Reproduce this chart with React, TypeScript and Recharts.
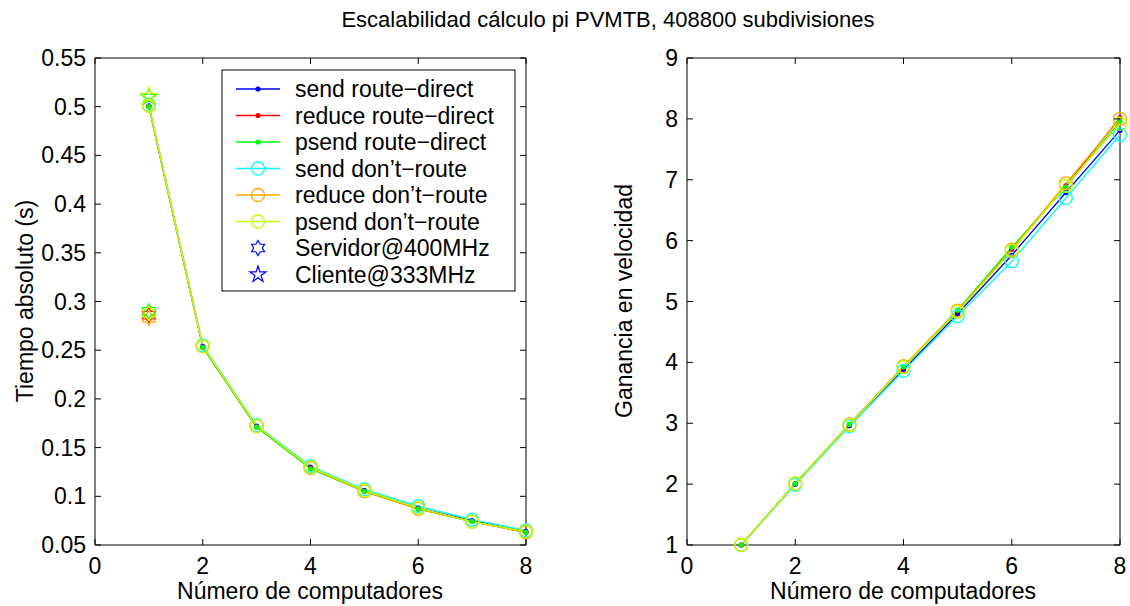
import React from "react";
import { ComposedChart, Line, Scatter, XAxis, YAxis, ReferenceLine } from "recharts";

const computers = [1, 2, 3, 4, 5, 6, 7, 8];

// tiempo absoluto (s)
const timeSendRD = [0.501, 0.254, 0.172, 0.13, 0.106, 0.088, 0.075, 0.064];
const timeReduceRD = [0.5, 0.253, 0.171, 0.129, 0.105, 0.087, 0.074, 0.063];
const timePsendRD = [0.5, 0.253, 0.171, 0.128, 0.105, 0.087, 0.074, 0.063];
const timeSendDR = [0.502, 0.255, 0.173, 0.131, 0.107, 0.09, 0.076, 0.065];
const timeReduceDR = [0.501, 0.254, 0.172, 0.129, 0.105, 0.087, 0.074, 0.063];
const timePsendDR = [0.501, 0.254, 0.172, 0.13, 0.106, 0.088, 0.074, 0.064];

// ganancia en velocidad
const speedSendRD = [1, 2.0, 2.96, 3.88, 4.8, 5.76, 6.79, 7.81];
const speedReduceRD = [1, 2.01, 2.98, 3.92, 4.85, 5.86, 6.9, 8.02];
const speedPsendRD = [1, 2.01, 2.98, 3.93, 4.86, 5.89, 6.88, 7.96];
const speedSendDR = [1, 1.99, 2.95, 3.86, 4.76, 5.66, 6.7, 7.74];
const speedReduceDR = [1, 2.01, 2.98, 3.94, 4.85, 5.85, 6.94, 8.0];
const speedPsendDR = [1, 2.01, 2.97, 3.92, 4.83, 5.83, 6.9, 7.92];

// single-machine reference times
const servidorTimes = [0.286, 0.283, 0.29, 0.288];
const servidorColors = ["#ff0000", "#ffaa00", "#00ff00", "#c0ff00"];
const clienteTimes = [0.51, 0.511];
const clienteColors = ["#00ff00", "#c0ff00"];

const xTicks = [0, 2, 4, 6, 8];
const timeTicks = [0.05, 0.1, 0.15, 0.2, 0.25, 0.3, 0.35, 0.4, 0.45, 0.5, 0.55];
const speedTicks = [1, 2, 3, 4, 5, 6, 7, 8, 9];

const series = [
  { key: "sendRD", name: "send route−direct", color: "#0000ff", circle: false, time: timeSendRD, speed: speedSendRD },
  { key: "reduceRD", name: "reduce route−direct", color: "#ff0000", circle: false, time: timeReduceRD, speed: speedReduceRD },
  { key: "psendRD", name: "psend route−direct", color: "#00ff00", circle: false, time: timePsendRD, speed: speedPsendRD },
  { key: "sendDR", name: "send don’t−route", color: "#00ffff", circle: true, time: timeSendDR, speed: speedSendDR },
  { key: "reduceDR", name: "reduce don’t−route", color: "#ffaa00", circle: true, time: timeReduceDR, speed: speedReduceDR },
  { key: "psendDR", name: "psend don’t−route", color: "#c0ff00", circle: true, time: timePsendDR, speed: speedPsendDR },
];

const timeData = computers.map((n, i) => {
  const row: any = { n };
  series.forEach((s) => (row[s.key] = s.time[i]));
  return row;
});
const speedData = computers.map((n, i) => {
  const row: any = { n };
  series.forEach((s) => (row[s.key] = s.speed[i]));
  return row;
});
const servidorData = servidorTimes.map((t, i) => ({ n: 1, t, color: servidorColors[i] }));
const clienteData = clienteTimes.map((t, i) => ({ n: 1, t, color: clienteColors[i] }));

const FONT = "'Liberation Sans', Arial, Helvetica, sans-serif";
const FS = 23;
const TOP = 58;
const BOTTOM = 545;
const TICK = 6;

function starPoints(cx: number, cy: number, n: number, R: number, r: number) {
  const pts: string[] = [];
  for (let i = 0; i < 2 * n; i++) {
    const a = -Math.PI / 2 + (i * Math.PI) / n;
    const rad = i % 2 === 0 ? R : r;
    pts.push(`${cx + rad * Math.cos(a)},${cy + rad * Math.sin(a)}`);
  }
  return pts.join(" ");
}

const Hexagram = (props: any) => {
  const { cx, cy, payload } = props;
  const c = payload?.color || "#0000ff";
  return <polygon points={starPoints(cx, cy, 6, 7.5, 7.5 / Math.sqrt(3))} fill="none" stroke={c} strokeWidth={1.2} />;
};
const Pentagram = (props: any) => {
  const { cx, cy, payload } = props;
  const c = payload?.color || "#0000ff";
  return <polygon points={starPoints(cx, cy, 5, 8.5, 8.5 * 0.382)} fill="none" stroke={c} strokeWidth={1.2} />;
};

// ticks pointing inward, drawn on both sides of the box
const makeXTick = () => (props: any) => {
  const { x, payload } = props;
  return (
    <g>
      <line x1={x} y1={BOTTOM} x2={x} y2={BOTTOM - TICK} stroke="#000" />
      <line x1={x} y1={TOP} x2={x} y2={TOP + TICK} stroke="#000" />
      <text x={x} y={BOTTOM + 29} textAnchor="middle" fontSize={FS} fontFamily={FONT} fill="#000">
        {payload.value}
      </text>
    </g>
  );
};
const makeYTick = (left: number, right: number) => (props: any) => {
  const { y, payload } = props;
  return (
    <g>
      <line x1={left} y1={y} x2={left + TICK} y2={y} stroke="#000" />
      <line x1={right} y1={y} x2={right - TICK} y2={y} stroke="#000" />
      <text x={left - 9} y={y + 8} textAnchor="end" fontSize={FS} fontFamily={FONT} fill="#000">
        {payload.value}
      </text>
    </g>
  );
};

const renderLines = () =>
  series.map((s) => (
    <Line
      key={s.key}
      dataKey={s.key}
      stroke={s.color}
      strokeWidth={1.3}
      isAnimationActive={false}
      dot={
        s.circle
          ? { r: 6.5, fill: "none", stroke: s.color, strokeWidth: 1.3 }
          : { r: 2.6, fill: s.color, stroke: s.color, strokeWidth: 0 }
      }
      activeDot={false}
    />
  ));

const Overlay = () => {
  const x0 = 222;
  const y0 = 70;
  const rowY = (i: number) => y0 + 19 + i * 26.5;
  return (
    <svg width={1130} height={606} style={{ position: "absolute", left: 0, top: 0, pointerEvents: "none" }}>
      <rect x={x0} y={y0} width={293} height={221} fill="#fff" stroke="#000" strokeWidth={1} />
      {series.map((s, i) => (
        <g key={s.key}>
          <line x1={236} x2={280} y1={rowY(i)} y2={rowY(i)} stroke={s.color} strokeWidth={1.3} />
          {s.circle ? (
            <circle cx={258} cy={rowY(i)} r={6.5} fill="none" stroke={s.color} strokeWidth={1.3} />
          ) : (
            <circle cx={258} cy={rowY(i)} r={2.6} fill={s.color} />
          )}
          <text x={295} y={rowY(i) + 8} fontSize={FS} fontFamily={FONT} fill="#000">
            {s.name}
          </text>
        </g>
      ))}
      <polygon points={starPoints(258, rowY(6), 6, 7.5, 7.5 / Math.sqrt(3))} fill="none" stroke="#0000ff" strokeWidth={1.2} />
      <text x={295} y={rowY(6) + 8} fontSize={FS} fontFamily={FONT} fill="#000">
        Servidor@400MHz
      </text>
      <polygon points={starPoints(258, rowY(7), 5, 8.5, 8.5 * 0.382)} fill="none" stroke="#0000ff" strokeWidth={1.2} />
      <text x={295} y={rowY(7) + 8} fontSize={FS} fontFamily={FONT} fill="#000">
        Cliente@333MHz
      </text>

      <text x={608} y={27} textAnchor="middle" fontSize={22} fontFamily={FONT} fill="#000">
        Escalabilidad cálculo pi PVMTB, 408800 subdivisiones
      </text>
      <text x={310} y={599} textAnchor="middle" fontSize={FS} fontFamily={FONT} fill="#000">
        Número de computadores
      </text>
      <text x={903} y={599} textAnchor="middle" fontSize={FS} fontFamily={FONT} fill="#000">
        Número de computadores
      </text>
      <text x={33} y={301} textAnchor="middle" fontSize={FS} fontFamily={FONT} fill="#000" transform="rotate(-90 33 301)">
        Tiempo absoluto (s)
      </text>
      <text x={632} y={301} textAnchor="middle" fontSize={FS} fontFamily={FONT} fill="#000" transform="rotate(-90 632 301)">
        Ganancia en velocidad
      </text>
    </svg>
  );
};

export default function App() {
  return (
    <div style={{ position: "absolute", left: 0, top: 0, width: 1130, height: 606, background: "#fff", fontFamily: FONT }}>
      <div style={{ position: "absolute", left: 0, top: 0 }}>
        <ComposedChart width={560} height={606} data={timeData} margin={{ top: TOP, right: 34, bottom: 31, left: 35 }}>
          <XAxis
            dataKey="n"
            type="number"
            domain={[0, 8]}
            ticks={xTicks}
            height={30}
            tickSize={0}
            tickMargin={0}
            axisLine={{ stroke: "#000" }}
            tick={makeXTick()}
            interval={0}
          />
          <YAxis
            type="number"
            domain={[0.05, 0.55]}
            ticks={timeTicks}
            width={60}
            tickSize={0}
            tickMargin={0}
            axisLine={{ stroke: "#000" }}
            tick={makeYTick(95, 526)}
            interval={0}
          />
          <ReferenceLine y={0.55} stroke="#000" />
          <ReferenceLine x={8} stroke="#000" />
          {renderLines()}
          <Scatter data={servidorData} dataKey="t" shape={Hexagram} isAnimationActive={false} />
          <Scatter data={clienteData} dataKey="t" shape={Pentagram} isAnimationActive={false} />
        </ComposedChart>
      </div>
      <div style={{ position: "absolute", left: 560, top: 0 }}>
        <ComposedChart width={570} height={606} data={speedData} margin={{ top: TOP, right: 10, bottom: 31, left: 67 }}>
          <XAxis
            dataKey="n"
            type="number"
            domain={[0, 8]}
            ticks={xTicks}
            height={30}
            tickSize={0}
            tickMargin={0}
            axisLine={{ stroke: "#000" }}
            tick={makeXTick()}
            interval={0}
          />
          <YAxis
            type="number"
            domain={[1, 9]}
            ticks={speedTicks}
            width={60}
            tickSize={0}
            tickMargin={0}
            axisLine={{ stroke: "#000" }}
            tick={makeYTick(127, 560)}
            interval={0}
          />
          <ReferenceLine y={9} stroke="#000" />
          <ReferenceLine x={8} stroke="#000" />
          {renderLines()}
        </ComposedChart>
      </div>
      <Overlay />
    </div>
  );
}
